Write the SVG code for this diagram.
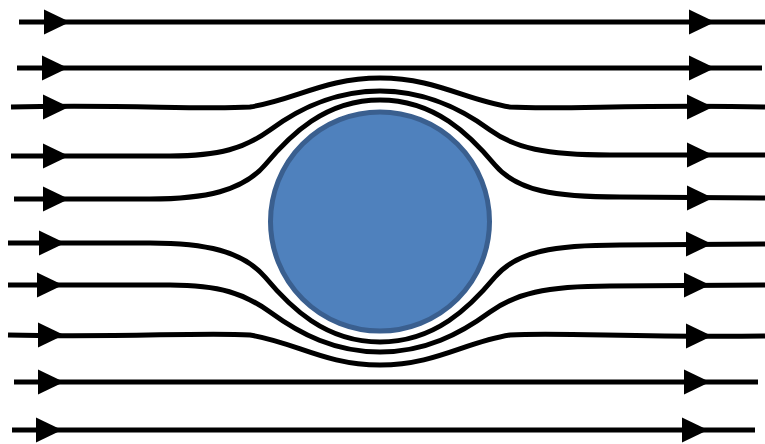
<svg xmlns="http://www.w3.org/2000/svg" width="765" height="444" viewBox="0 0 765 444">
<style>
.s{fill:none;stroke:#000;stroke-width:5;stroke-linecap:butt}
.a{fill:#000}
</style>
<defs>
<path id="ah" d="M0,-12.5 L26,0 L0,12.5 Z"/>
</defs>
<rect width="765" height="444" fill="#fff"/>
<g id="cylinder">
<circle cx="380" cy="221.5" r="109.5" fill="#4F81BD" stroke="#3A5F8F" stroke-width="5"/>
</g>
<g id="streamlines">
<path class="s" d="M19,22 L765,22"/>
<path class="s" d="M17,68 L762,68"/>
<path class="s" d="M11,107 C120,104 200,110 250,107 C295,100 325,78 380,78 C435,78 465,100 510,107 C560,110 640,104 765,107"/>
<path class="s" d="M11,156 L170,156 C220,156 245,148 270,130 C300,108 335,91 380,91 C425,91 460,108 490,130 C515,148 545,155 610,155 L765,155"/>
<path class="s" d="M14,199 L150,199 C205,199 243,191 265,165 C290,135 325,100 380,100 C435,100 470,135 495,165 C517,191 555,197 620,197 L765,198"/>
<path class="s" d="M8,243 L150,243 C205,243 243,251 265,277 C290,307 325,342 380,342 C435,342 470,307 495,277 C517,251 555,245 620,245 L765,244"/>
<path class="s" d="M8,285 L170,285 C220,285 245,294 270,312 C300,334 335,352 380,352 C425,352 460,334 490,312 C515,294 545,286 610,286 L765,285"/>
<path class="s" d="M8,335 C120,338 200,332 250,335 C295,342 325,365 380,365 C435,365 465,342 510,335 C560,332 640,338 765,336"/>
<path class="s" d="M14,382 L758,382"/>
<path class="s" d="M12,430 L755,430"/>
</g>
<g id="arrowheads" class="a">
<use href="#ah" x="44" y="22"/>
<use href="#ah" x="42" y="68"/>
<use href="#ah" x="43" y="107"/>
<use href="#ah" x="43" y="156"/>
<use href="#ah" x="43" y="199"/>
<use href="#ah" x="39" y="243"/>
<use href="#ah" x="37" y="285"/>
<use href="#ah" x="38" y="335"/>
<use href="#ah" x="38" y="382"/>
<use href="#ah" x="36" y="430"/>
<use href="#ah" x="689" y="22"/>
<use href="#ah" x="689" y="68"/>
<use href="#ah" x="687" y="107"/>
<use href="#ah" x="687" y="155"/>
<use href="#ah" x="687" y="198"/>
<use href="#ah" x="686" y="244"/>
<use href="#ah" x="684" y="285"/>
<use href="#ah" x="686" y="336"/>
<use href="#ah" x="684" y="382"/>
<use href="#ah" x="682" y="430"/>
</g>
</svg>
